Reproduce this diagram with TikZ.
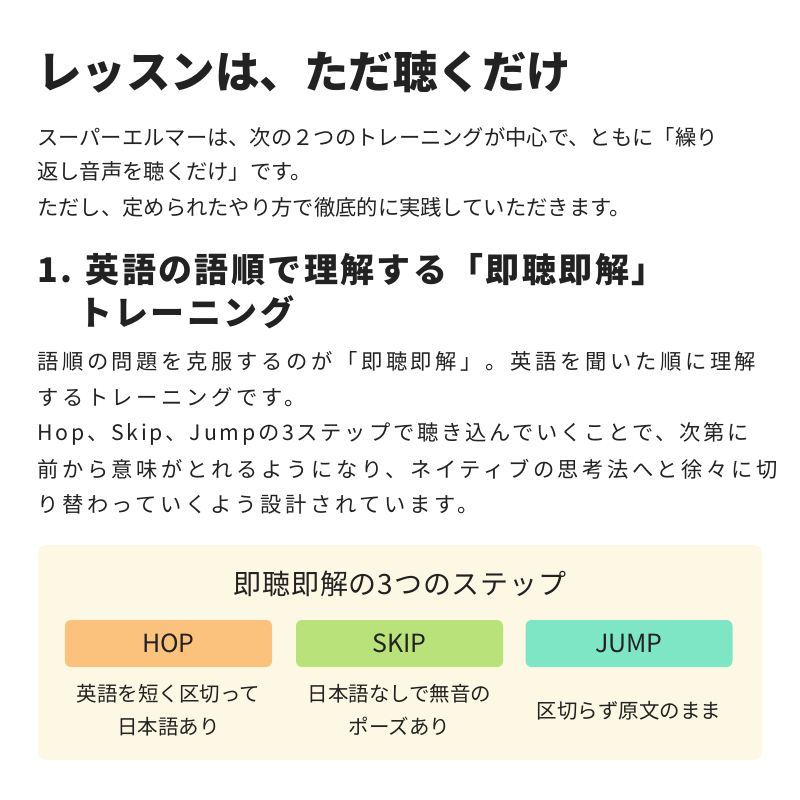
\documentclass[tikz,border=0pt]{standalone}
\usepackage{fontspec}
\setmainfont{Noto Sans CJK JP}
\definecolor{txt}{HTML}{222222}
\definecolor{cream}{HTML}{FDF8E4}
\definecolor{hop}{HTML}{FBC27E}
\definecolor{skip}{HTML}{B9E27A}
\definecolor{jump}{HTML}{7EE6C4}
\begin{document}
\begin{tikzpicture}[x=1pt,y=-1pt,
  line/.style={anchor=west,inner sep=0,text=txt,font=\fontsize{21.3}{24}\selectfont},
  wide/.style={line,font=\fontsize{21.3}{24}\selectfont\addfontfeature{LetterSpace=17}},
  btn/.style={fill=#1,rounded corners=6pt,minimum width=207pt,minimum height=47pt,text=txt,font=\fontsize{25}{28}\selectfont},
  lab/.style={align=center,text=txt,font=\fontsize{20.5}{33}\selectfont}]
\useasboundingbox (0,0) rectangle (800,800);
\fill[white] (0,0) rectangle (800,800);
\node[line,font=\fontsize{44.5}{50}\selectfont\bfseries] (t) at (37,72) {レッスンは、ただ聴くだけ};
\node[line] (p1) at (37,137) {スーパーエルマーは、次の２つのトレーニングが中心で、ともに「繰り};
\node[line] (p2) at (37,171) {返し音声を聴くだけ」です。};
\node[line] (p3) at (37,207) {ただし、定められたやり方で徹底的に実践していただきます。};
\node[line,font=\fontsize{34}{38}\selectfont\bfseries\addfontfeature{LetterSpace=7}] (h1) at (37,270) {1. 英語の語順で理解する「即聴即解」};
\node[line,font=\fontsize{34}{38}\selectfont\bfseries\addfontfeature{LetterSpace=7}] (h2) at (78,312) {トレーニング};
\node[wide] (q1) at (37,361) {語順の問題を克服するのが「即聴即解」。英語を聞いた順に理解};
\node[wide] (q2) at (37,397) {するトレーニングです。};
\node[wide,font=\fontsize{21.3}{24}\selectfont\addfontfeature{LetterSpace=13}] (q3) at (37,434) {Hop、Skip、Jumpの3ステップで聴き込んでいくことで、次第に};
\node[wide] (q4) at (37,469) {前から意味がとれるようになり、ネイティブの思考法へと徐々に切};
\node[wide] (q5) at (37,504) {り替わっていくよう設計されています。};
\fill[cream,rounded corners=8pt] (38,545) rectangle (762,760);
\node[text=txt,font=\fontsize{28}{32}\selectfont\addfontfeature{LetterSpace=3}] (bt) at (400,584) {即聴即解の3つのステップ};
\node[btn=hop] (hop) at (168.5,643.5) {HOP};
\node[btn=skip] (skip) at (399.5,643.5) {SKIP};
\node[btn=jump] (jump) at (629,643.5) {JUMP};
\node[lab] (l1) at (168.5,710) {英語を短く区切って\\日本語あり};
\node[lab] (l2) at (399.5,710) {日本語なしで無音の\\ポーズあり};
\node[lab] (l3) at (629,711) {区切らず原文のまま};
\end{tikzpicture}
\end{document}
